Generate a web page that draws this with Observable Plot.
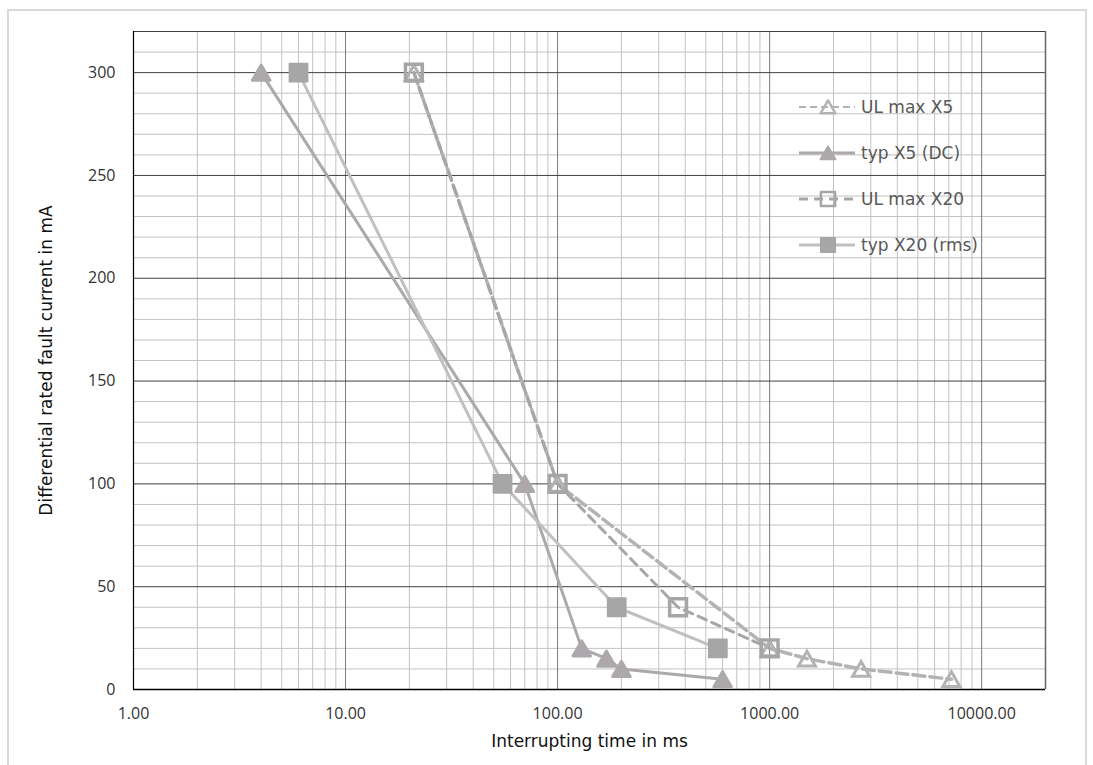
<!DOCTYPE html>
<html>
<head>
<meta charset="utf-8">
<script src="https://cdn.jsdelivr.net/npm/d3@7"></script>
<script src="https://cdn.jsdelivr.net/npm/@observablehq/plot@0.6"></script>
<style>
  html, body { margin: 0; padding: 0; background: #fff; overflow: hidden; }
  #wrap { position: relative; width: 1093px; height: 765px; }
  #border { position: absolute; left: 7px; top: 9px; width: 1080px; height: 800px;
            border: 2px solid #d9d9d9; box-sizing: border-box; pointer-events: none; }
  #chart { position: absolute; left: 0; top: 0; }
  #legend { position: absolute; left: 0; top: 0; width: 1093px; height: 765px; pointer-events: none; }
</style>
</head>
<body>
<div id="wrap">
  <div id="border"></div>
  <div id="chart"></div>
  <div id="legend"></div>
</div>
<script>
// ---- data ----
const seriesNames = ["UL max X5", "typ X5 (DC)", "UL max X20", "typ X20 (rms)"];
const ulMaxX5Time = [21, 100, 1000, 1500, 2700, 7200];
const ulMaxX5Current = [300, 100, 20, 15, 10, 5];
const typX5Time = [4, 70, 130, 170, 200, 600];
const typX5Current = [300, 100, 20, 15, 10, 5];
const ulMaxX20Time = [21, 100, 370, 1000];
const ulMaxX20Current = [300, 100, 40, 20];
const typX20Time = [6, 55, 190, 570];
const typX20Current = [300, 100, 40, 20];
const xTickValues = [1, 10, 100, 1000, 10000];
const yTickValues = [0, 50, 100, 150, 200, 250, 300];
const xTitle = "Interrupting time in ms";
const yTitle = "Differential rated fault current in mA";

// ---- derived tables ----
const rows = (name, ts, is) => ts.map((t, k) => ({series: name, t, i: is[k]}));
const ulX5 = rows(seriesNames[0], ulMaxX5Time, ulMaxX5Current);
const typX5 = rows(seriesNames[1], typX5Time, typX5Current);
const ulX20 = rows(seriesNames[2], ulMaxX20Time, ulMaxX20Current);
const typX20 = rows(seriesNames[3], typX20Time, typX20Current);

const xMin = 1, xMax = 20000, yMax = 320;
const xMinor = [];
for (const dec of xTickValues) for (let m = 2; m <= 9; m++) if (dec * m < xMax) xMinor.push(dec * m);
const yMinor = d3.range(10, yMax + 1, 10).filter(v => v % 50 !== 0);
const yMajor = d3.range(50, yMax + 1, 50).concat([yMax]);

const styles = {
  ulX5:  {color: "#b3b3b3", width: 3.5, dash: "12,5"},
  typX5: {color: "#aca8ab", width: 3},
  ulX20: {color: "#a6a6a6", width: 3, dash: "9,6"},
  typX20:{color: "#c0c0c0", width: 3, marker: "#a6a6a6"}
};

const chart = Plot.plot({
  width: 1093,
  height: 765,
  marginLeft: 133,
  marginRight: 48,
  marginTop: 31,
  marginBottom: 76,
  style: {fontFamily: "'Open Sans', sans-serif", fontSize: "16px", color: "#404040", background: "transparent"},
  x: {type: "log", domain: [xMin, xMax]},
  y: {domain: [0, yMax]},
  marks: [
    Plot.ruleX(xMinor, {stroke: "#c2c2c2", strokeWidth: 1}),
    Plot.ruleY(yMinor, {stroke: "#c2c2c2", strokeWidth: 1}),
    Plot.ruleX(xTickValues.slice(1), {stroke: "#7a7a7a", strokeWidth: 1}),
    Plot.ruleY(yMajor, {stroke: "#404040", strokeWidth: 1}),
    Plot.ruleX([xMin], {stroke: "#000", strokeWidth: 1.2}),
    Plot.ruleX([xMax], {stroke: "#666", strokeWidth: 1.5}),
    Plot.ruleY([0], {stroke: "#000", strokeWidth: 1.5}),
    Plot.axisX(xTickValues, {tickSize: 0, tickPadding: 18, tickFormat: d3.format(".2f"), label: null, fill: "#333"}),
    Plot.axisY(yTickValues, {tickSize: 0, tickPadding: 18, label: null, fill: "#333"}),
    Plot.text([xTitle], {frameAnchor: "bottom", textAnchor: "middle", text: d => d, dy: 57, fontFamily: "'DejaVu Sans', sans-serif", fontSize: 17, fill: "#111"}),
    Plot.text([yTitle], {frameAnchor: "left", textAnchor: "middle", text: d => d, rotate: -90, dx: -87, fontFamily: "'DejaVu Sans', sans-serif", fontSize: 17, fill: "#111"}),
    // lines
    Plot.line(ulX5, {x: "t", y: "i", stroke: styles.ulX5.color, strokeWidth: styles.ulX5.width, strokeDasharray: styles.ulX5.dash}),
    Plot.line(typX5, {x: "t", y: "i", stroke: styles.typX5.color, strokeWidth: styles.typX5.width}),
    Plot.line(ulX20, {x: "t", y: "i", stroke: styles.ulX20.color, strokeWidth: styles.ulX20.width, strokeDasharray: styles.ulX20.dash}),
    Plot.line(typX20, {x: "t", y: "i", stroke: styles.typX20.color, strokeWidth: styles.typX20.width}),
    // markers
    Plot.dot(ulX5, {x: "t", y: "i", symbol: "triangle", r: 6.3, dy: 2.4, fill: "none", stroke: styles.ulX5.color, strokeWidth: 3}),
    Plot.dot(typX5, {x: "t", y: "i", symbol: "triangle", r: 6.6, dy: 2.5, fill: styles.typX5.color, stroke: styles.typX5.color, strokeWidth: 2.8, strokeLinejoin: "round"}),
    Plot.dot(ulX20, {x: "t", y: "i", symbol: "square", r: 9.5, fill: "none", stroke: styles.ulX20.color, strokeWidth: 3.5}),
    Plot.dot(typX20, {x: "t", y: "i", symbol: "square", r: 10.3, fill: styles.typX20.marker, stroke: styles.typX20.marker, strokeWidth: 1.5, strokeLinejoin: "round"})
  ]
});
document.getElementById("chart").appendChild(chart);

// ---- legend (HTML overlay inside the plot area) ----
const legendItems = [
  {name: seriesNames[0], line: styles.ulX5.color, width: 2, dash: "7,4", marker: "triangle", fill: "none", mstroke: styles.ulX5.color},
  {name: seriesNames[1], line: styles.typX5.color, width: 3, dash: null, marker: "triangle", fill: styles.typX5.color, mstroke: styles.typX5.color},
  {name: seriesNames[2], line: styles.ulX20.color, width: 3, dash: "9,6", marker: "square", fill: "none", mstroke: styles.ulX20.color},
  {name: seriesNames[3], line: styles.typX20.color, width: 3, dash: null, marker: "square", fill: styles.typX20.marker, mstroke: styles.typX20.marker}
];
const legendLeft = 799, legendTop = 107, legendStep = 46;
const ns = "http://www.w3.org/2000/svg";
const lsvg = document.createElementNS(ns, "svg");
lsvg.setAttribute("width", 1093); lsvg.setAttribute("height", 765);
lsvg.style.position = "absolute"; lsvg.style.left = "0"; lsvg.style.top = "0";
legendItems.forEach((it, k) => {
  const cy = legendTop + k * legendStep;
  const ln = document.createElementNS(ns, "line");
  ln.setAttribute("x1", legendLeft); ln.setAttribute("x2", legendLeft + 56);
  ln.setAttribute("y1", cy); ln.setAttribute("y2", cy);
  ln.setAttribute("stroke", it.line); ln.setAttribute("stroke-width", it.width);
  if (it.dash) ln.setAttribute("stroke-dasharray", it.dash);
  lsvg.appendChild(ln);
  const mx = legendLeft + 29;
  const p = document.createElementNS(ns, "path");
  const sym = it.marker === "triangle" ? d3.symbolTriangle : d3.symbolSquare;
  const size = it.marker === "triangle" ? Math.PI * 5.5 * 5.5 : Math.PI * 8 * 8;
  p.setAttribute("d", d3.symbol(sym, size)());
  p.setAttribute("transform", `translate(${mx},${cy + (it.marker === "triangle" ? 2 : 0)})`);
  p.setAttribute("fill", it.fill);
  p.setAttribute("stroke", it.mstroke);
  p.setAttribute("stroke-width", it.fill === "none" ? 2.5 : 2);
  p.setAttribute("stroke-linejoin", "round");
  lsvg.appendChild(p);
  const tx = document.createElementNS(ns, "text");
  tx.setAttribute("x", legendLeft + 62); tx.setAttribute("y", cy);
  tx.setAttribute("dy", "0.36em");
  tx.setAttribute("font-family", "'DejaVu Sans', sans-serif");
  tx.setAttribute("font-size", 17);
  tx.setAttribute("fill", "#595959");
  tx.textContent = it.name;
  lsvg.appendChild(tx);
});
document.getElementById("legend").appendChild(lsvg);
</script>
</body>
</html>
